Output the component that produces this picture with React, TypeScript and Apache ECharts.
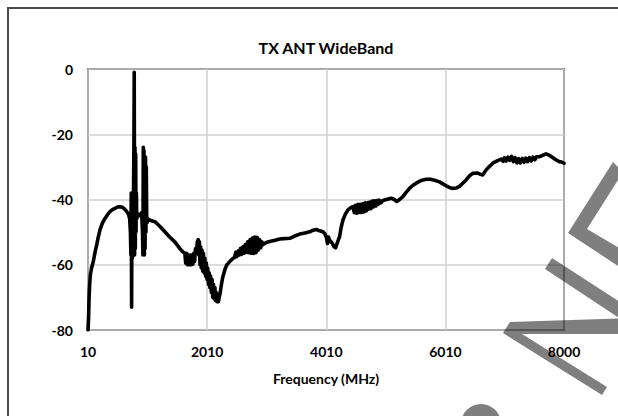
import React, { useEffect, useRef } from "react";
import * as echarts from "echarts";

// [frequency MHz, dB] readings taken from the reference trace, in segments
const riseAndResonances: number[][] = [
  [10, -80], [20, -76], [28, -70], [38, -66], [50, -63], [70, -61], [99, -59], [130, -56], [155, -54], [185, -51.3],
  [211, -49.3], [250, -47.3], [295, -45.8], [340, -44.6], [379, -43.7], [420, -43.1], [463, -42.7], [505, -42.3], [546, -42.2], [590, -42.4],
  [630, -43], [665, -43.8], [690, -44.5], [710, -46], [722, -50], [730, -57], [736, -38], [742, -73], [748, -40], [755, -58],
  [762, -38], [768, -57], [774, -38], [780, -25], [786, -1], [792, -57], [798, -24], [804, -55], [810, -26], [816, -50],
  [822, -38], [828, -46], [840, -44.5], [860, -44.5], [885, -45], [910, -44], [925, -50], [932, -57], [938, -24], [944, -55],
  [950, -25], [956, -57], [962, -28], [968, -55], [975, -27], [982, -50], [988, -30], [995, -45], [1005, -47], [1020, -46],
  [1049, -46.3], [1090, -46.6], [1133, -46.8], [1180, -47.6], [1230, -48.5], [1300, -49.9], [1380, -51.5], [1468, -53], [1550, -55], [1600, -56],
  [1636, -56.5],
];
const dipRegion: number[][] = [
  [1650, -59.5], [1665, -56.5], [1680, -60], [1695, -57], [1710, -60], [1725, -57], [1740, -60], [1755, -57], [1770, -59.8], [1785, -56.5],
  [1800, -59], [1815, -55], [1830, -56], [1845, -53], [1860, -52.3], [1870, -57], [1880, -53], [1890, -60], [1900, -54.5], [1912, -61],
  [1924, -55.5], [1936, -62], [1948, -56.5], [1960, -62.5], [1972, -58], [1984, -63.5], [1996, -59.5], [2008, -64.5], [2020, -61], [2032, -66],
  [2044, -62.5], [2056, -67], [2068, -63.5], [2080, -68.5], [2092, -64.5], [2104, -70], [2116, -66], [2128, -70.5], [2140, -67], [2152, -71],
  [2164, -68.5], [2176, -71.3], [2188, -69.5], [2200, -71.3], [2212, -70], [2230, -68.5], [2250, -66], [2270, -64], [2306, -61.6], [2340, -60],
  [2362, -59.6], [2400, -58.8], [2446, -58],
];
const midBand: number[][] = [
  [2470, -57.8], [2490, -56.2], [2510, -57.5], [2530, -55.8], [2550, -57], [2570, -55], [2590, -56.8], [2610, -54.5], [2630, -56.5], [2650, -53.8],
  [2670, -56.2], [2690, -53], [2710, -56.3], [2730, -52.3], [2750, -56.5], [2770, -51.8], [2790, -56.5], [2810, -51.5], [2830, -56.3], [2850, -51.6],
  [2870, -55.5], [2890, -52.3], [2910, -54.8], [2930, -53], [2948, -53.8], [3000, -53.2], [3060, -52.9], [3150, -52.5], [3228, -52.1], [3300, -52],
  [3396, -51.9], [3480, -51.2], [3563, -50.6], [3650, -50.3], [3731, -49.9], [3790, -49.4], [3843, -49.2], [3898, -49.6], [3954, -49.9], [3982, -50.4],
  [4010, -51.5], [4030, -53.5], [4045, -51.5], [4066, -52.5], [4110, -53.4], [4140, -54.5], [4166, -54.8], [4200, -53], [4233, -51.4], [4260, -48.5],
  [4289, -46.3], [4330, -44.5], [4373, -43.2], [4420, -42.5], [4457, -42.2], [4480, -44], [4500, -41.8], [4520, -44.2], [4540, -41.5], [4560, -44],
  [4580, -41.5], [4600, -44], [4620, -41.3], [4640, -43.8], [4660, -41], [4680, -43.5], [4700, -41], [4720, -43], [4740, -40.8], [4760, -42.8],
  [4780, -40.5], [4800, -42.3], [4820, -40.4], [4840, -42], [4860, -40.3], [4880, -41.5], [4900, -40.2], [4930, -41], [4959, -40.3], [5020, -40],
];
const upperBand: number[][] = [
  [5099, -39.6], [5150, -40], [5194, -40.6], [5240, -40], [5295, -39.1], [5350, -37.8], [5407, -36.6], [5460, -35.7], [5519, -35], [5600, -34.2],
  [5686, -33.8], [5760, -33.8], [5826, -34.1], [5910, -34.6], [5965, -35.2], [6022, -35.8], [6077, -36.3], [6133, -36.6], [6190, -36.5], [6245, -36],
  [6300, -35], [6357, -34], [6410, -32.8], [6468, -32], [6552, -31.9], [6600, -32.3], [6635, -32.5], [6690, -31], [6747, -29.9], [6810, -28.8],
  [6886, -28.1], [6950, -27.6], [6980, -28.3], [7000, -27.2], [7030, -28.2], [7060, -27], [7090, -28], [7120, -26.8], [7150, -28.4], [7180, -27.2],
  [7210, -28.8], [7240, -27.5], [7270, -28.8], [7300, -27.4], [7330, -28.6], [7360, -27.3], [7390, -28.4], [7420, -27.2], [7450, -28.2], [7480, -27],
  [7510, -27.8], [7540, -26.9], [7586, -26.9], [7640, -26.5], [7698, -26], [7750, -26.4], [7809, -27.1], [7870, -27.9], [7921, -28.4], [7960, -28.5],
  [8000, -28.9],
];

const X_MIN = 10;
const X_MAX = 8000;
const X_STEP = 2000;
const Y_MIN = -80;
const Y_MAX = 0;
const Y_STEP = 20;

const TITLE = "TX ANT WideBand";
const X_NAME = "Frequency (MHz)";

const FONT = "Lato, 'Noto Sans', sans-serif";

export default function App() {
  const ref = useRef<HTMLDivElement>(null);

  useEffect(() => {
    const chart = echarts.init(ref.current!, null, { renderer: "svg" });
    const readings = [...riseAndResonances, ...dipRegion, ...midBand, ...upperBand];
    // axis measured from X_MIN so that ticks fall at 10, 2010, 4010, 6010 and 8000
    const data = readings.map(([f, db]) => [f - X_MIN, db]);
    const wm = "rgba(0,0,0,0.5)";
    chart.setOption({
      animation: false,
      backgroundColor: "#fff",
      title: {
        text: TITLE,
        left: 326,
        top: 39,
        textAlign: "center",
        padding: 0,
        textStyle: { fontFamily: FONT, fontWeight: "bold", fontSize: 16, color: "#000" },
      },
      grid: {
        left: 88,
        top: 69,
        width: 476,
        height: 261,
        show: true,
        borderColor: "#000",
        borderWidth: 1.5,
        containLabel: false,
      },
      xAxis: {
        type: "value",
        min: 0,
        max: X_MAX - X_MIN,
        interval: X_STEP,
        name: X_NAME,
        nameLocation: "middle",
        nameGap: 41,
        nameTextStyle: { fontFamily: FONT, fontWeight: "bold", fontSize: 14, color: "#000" },
        axisLine: { show: false },
        axisTick: { show: false },
        axisLabel: {
          margin: 14,
          fontFamily: FONT,
          fontWeight: "bold",
          fontSize: 14,
          color: "#000",
          formatter: (v: number) => String(Math.round(v + X_MIN)),
        },
        splitLine: { show: true, lineStyle: { color: "#d0d0d0", width: 1.5 } },
      },
      yAxis: {
        type: "value",
        min: Y_MIN,
        max: Y_MAX,
        interval: Y_STEP,
        axisLine: { show: false },
        axisTick: { show: false },
        axisLabel: {
          margin: 15,
          padding: [9, 0, 0, 0],
          fontFamily: FONT,
          fontWeight: "bold",
          fontSize: 14,
          color: "#000",
        },
        splitLine: { show: true, lineStyle: { color: "#d0d0d0", width: 1.5 } },
      },
      series: [
        {
          type: "line",
          data,
          symbol: "none",
          showSymbol: false,
          lineStyle: { color: "#000", width: 3.6, join: "round", cap: "round" },
          z: 5,
        },
      ],
      graphic: [
        {
          type: "rect",
          shape: { x: 8, y: 8, width: 700, height: 500 },
          style: { fill: "none", stroke: "#4a4a4a", lineWidth: 2 },
          silent: true,
          z: 1,
        },
        {
          type: "polygon",
          shape: { points: [[568, 233], [613, 162], [623, 172], [587, 229], [650, 266], [650, 287]] },
          style: { fill: wm },
          z: 100,
          silent: true,
        },
        {
          type: "polygon",
          shape: { points: [[552, 258], [660, 328], [660, 345], [545, 269]] },
          style: { fill: wm },
          z: 100,
          silent: true,
        },
        {
          type: "polygon",
          shape: { points: [[510, 322], [660, 317], [660, 334], [522, 334], [607, 387], [602, 395], [503, 333]] },
          style: { fill: wm },
          z: 100,
          silent: true,
        },
        {
          type: "circle",
          shape: { cx: 481, cy: 424, r: 20 },
          style: { fill: wm },
          z: 100,
          silent: true,
        },
      ],
    });
    return () => chart.dispose();
  }, []);

  return (
    <div
      ref={ref}
      style={{ position: "absolute", left: 0, top: 0, width: 618, height: 416, background: "#fff" }}
    />
  );
}
